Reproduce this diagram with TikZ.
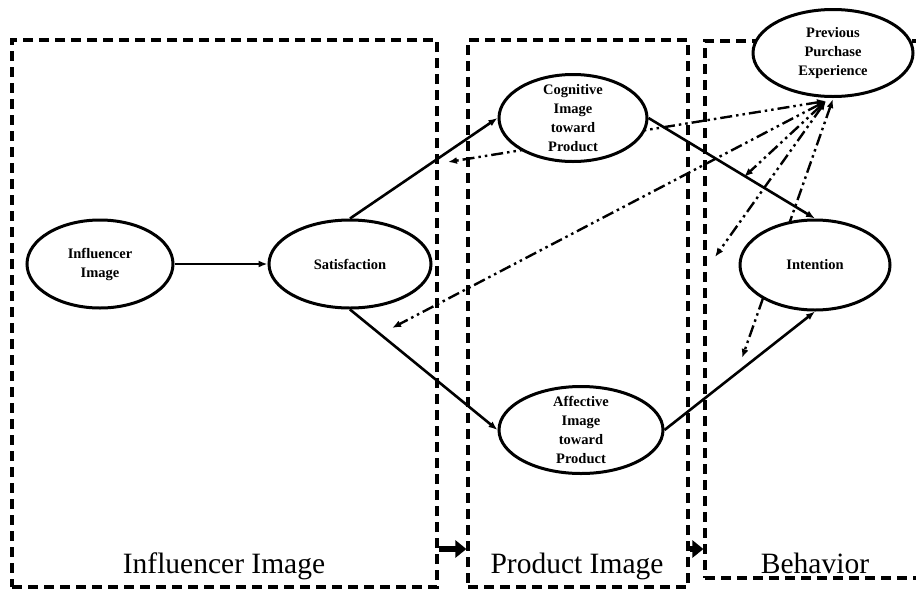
\documentclass[tikz,border=0pt]{standalone}
\usepackage{fontspec}
\setmainfont{Liberation Serif}
\usetikzlibrary{shapes,arrows.meta}
\tikzstyle{nd}=[ellipse,draw=black,line width=3pt,fill=white,inner xsep=0pt,inner ysep=-6pt,align=center,font=\fontsize{14.5}{19}\selectfont\bfseries]
\tikzstyle{frame}=[draw=black,line width=3.2pt,dash pattern=on 10pt off 6pt,inner sep=0pt]
\tikzstyle{lbl}=[anchor=base,inner sep=0pt,font=\fontsize{29.5}{34}\selectfont]
\tikzstyle{lnk}=[line width=2.6pt,-{Latex[length=9pt,width=7pt]}]
\tikzstyle{moder}=[line width=2.4pt,dash pattern=on 12pt off 4pt on 2.5pt off 4pt on 2.5pt off 4pt,{Latex[length=9pt,width=7pt]}-{Latex[length=9pt,width=7pt]}]
\tikzstyle{mover}=[line width=6pt,-{Triangle[length=11pt,width=17pt]}]

\begin{document}
\begin{tikzpicture}[x=1pt,y=-1pt]
\useasboundingbox (0,0) rectangle (916,590);
% the three stages
\node[frame,minimum width=425pt,minimum height=547pt] (infbox) at (224.5,313.5) {};
\node[frame,minimum width=220pt,minimum height=547pt] (prodbox) at (578,313.5) {};
\node[frame,minimum width=240pt,minimum height=537pt] (behbox) at (825,309.5) {};
\node[lbl] (inflbl) at (224,573) {Influencer Image};
\node[lbl] (prodlbl) at (577,573) {Product Image};
\node[lbl] (behlbl) at (815,573) {Behavior};
\coordinate (row) at (0,549);
\draw[mover] (infbox.east |- row) -- (prodbox.west |- row);
\draw[mover] (prodbox.east |- row) -- (behbox.west |- row);
% moderating lines
\coordinate (hub) at (826,101);
\coordinate (hubB) at (833,99);
\foreach \s/\n/\x/\y in {hub/mA/448/162,hub/mB/392/328,hub/mC/744/177,hub/mD/715/257,hubB/mE/742/358}
{\coordinate (\n) at (\x,\y); \draw[moder] (\s) -- (\n);}
% constructs
\node[nd,minimum width=146pt,minimum height=88pt] (infl) at (100,264) {Influencer\\Image};
\node[nd,minimum width=162pt,minimum height=88pt] (sat) at (350,264) {Satisfaction};
\node[nd,minimum width=148pt,minimum height=87pt] (cog) at (573,118) {Cognitive\\Image\\toward\\Product};
\node[nd,minimum width=164pt,minimum height=87pt] (aff) at (581,430) {Affective\\Image\\toward\\Product};
\node[nd,minimum width=150pt,minimum height=90pt] (int) at (815,265) {Intention};
\node[nd,minimum width=160pt,minimum height=87pt] (ppe) at (833,53) {Previous\\Purchase\\Experience};
\draw[lnk] (infl) -- (sat);
\draw[lnk] (sat.north) -- (cog.west);
\draw[lnk] (sat.south) -- (aff.west);
\draw[lnk] (cog.east) -- (int.north);
\draw[lnk] (aff.east) -- (int.south);
\end{tikzpicture}
\end{document}
